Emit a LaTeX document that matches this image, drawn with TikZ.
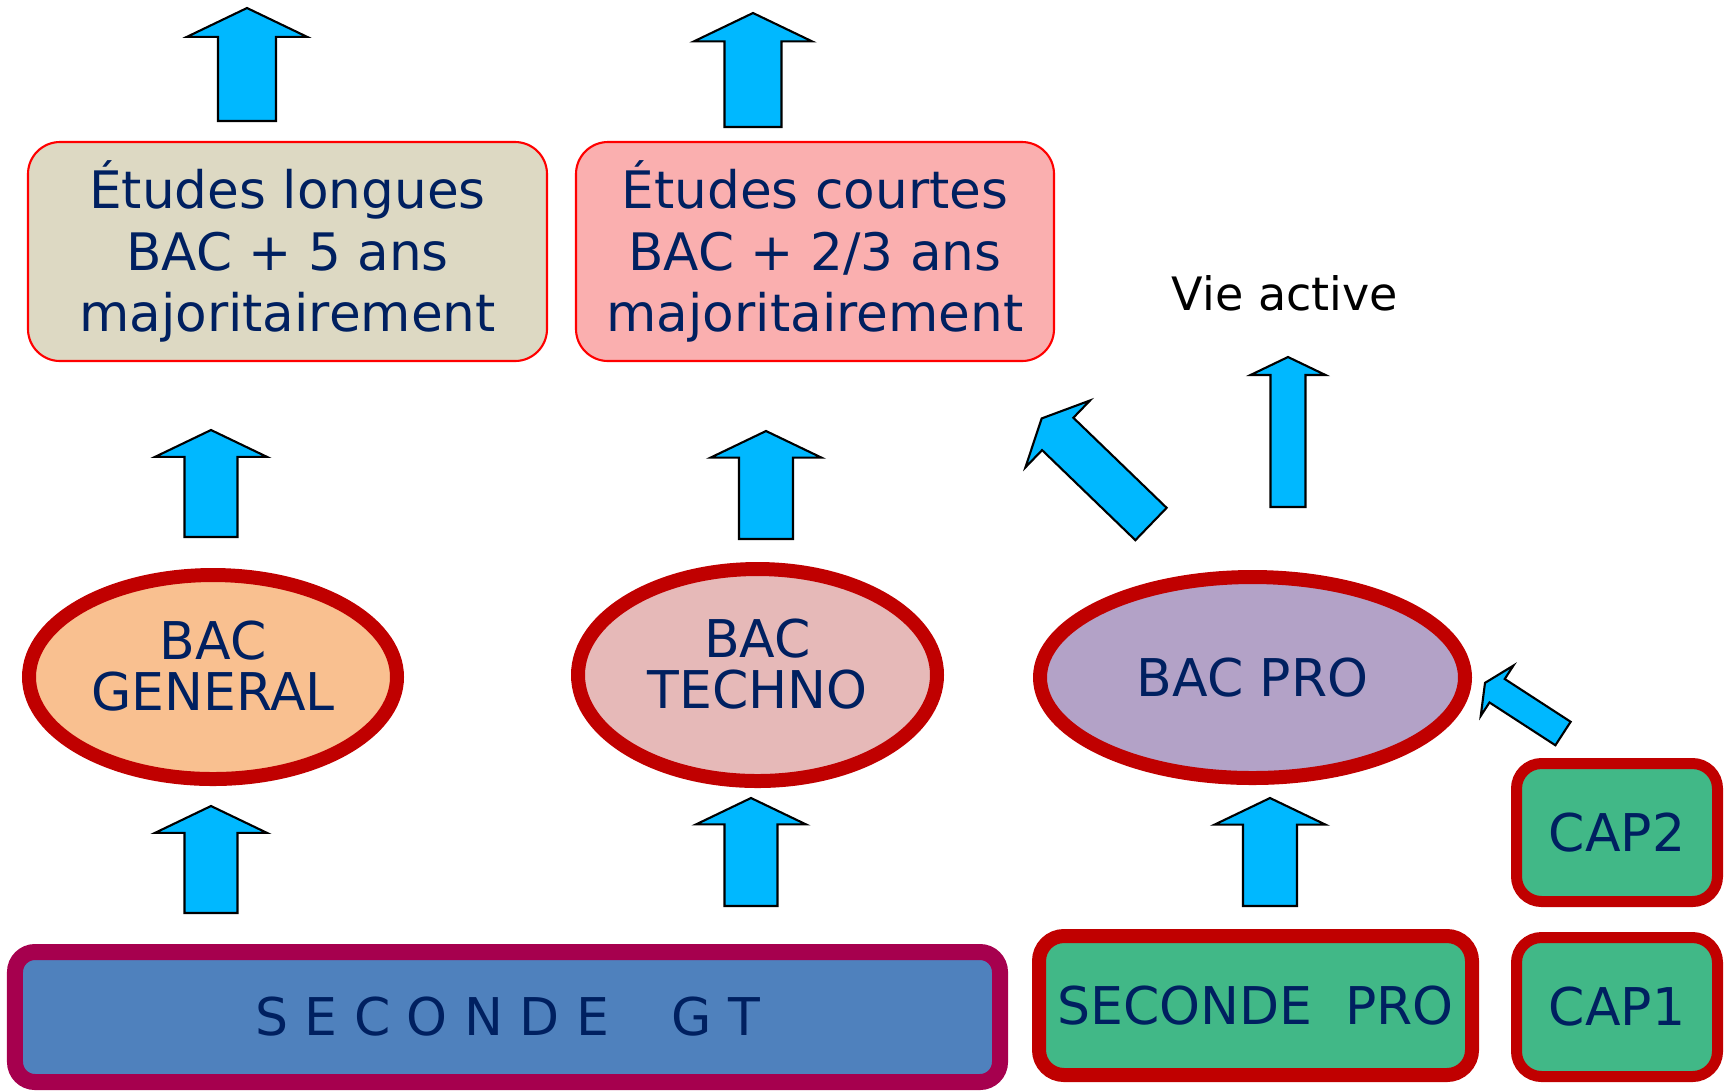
\documentclass[tikz,border=0pt]{standalone}
\usepackage{fontspec}
\setmainfont{DejaVu Sans}
\usepackage{tikz}
\usetikzlibrary{shapes.geometric}

\definecolor{navy}{HTML}{002060}
\definecolor{beige}{HTML}{DDD9C3}
\definecolor{rose}{HTML}{FAAFAF}
\definecolor{bacred}{HTML}{C00000}
\definecolor{orangeclair}{HTML}{F9C090}
\definecolor{roseclair}{HTML}{E6B9B8}
\definecolor{mauve}{HTML}{B3A2C7}
\definecolor{vert}{HTML}{41B887}
\definecolor{bleugt}{HTML}{4F81BD}
\definecolor{bordeaux}{HTML}{A6004E}
\definecolor{flechebleu}{HTML}{00B8FF}

% tail, angle, length, shaft width, head width
\newcommand{\fatarrow}[5]{%
  \filldraw[blockarrow, shift={#1}, rotate=#2] (-#4/2,0) -- (-#4/2,{#3-0.24*#5}) -- (-#5/2,{#3-0.24*#5}) -- (0,#3)
    -- (#5/2,{#3-0.24*#5}) -- (#4/2,{#3-0.24*#5}) -- (#4/2,0) -- cycle;}

\begin{document}
\begin{tikzpicture}[
    etude/.style={draw=red, line width=0.6pt, rounded corners=0.32cm, inner sep=0pt, text=navy, align=center, font={\fontsize{14.7pt}{17.4pt}\selectfont}},
    bac/.style={ellipse, draw=bacred, line width=0.14cm, inner sep=0pt, text=navy, align=center, font={\fontsize{14.8pt}{14.5pt}\selectfont}},
    cadre/.style={draw=bacred, fill=vert, rounded corners=0.25cm, inner sep=0pt, text=navy, font={\fontsize{14.8pt}{17pt}\selectfont}},
    blockarrow/.style={draw=black, fill=flechebleu, line width=0.6pt}
]
    \useasboundingbox (0,0) rectangle (17.29,-10.90);

    \node [etude, fill=beige, minimum width=5.19cm, minimum height=2.19cm] (longues) at (2.875,-2.515) {Études longues\\BAC + 5 ans\\majoritairement};
    \node [etude, fill=rose, minimum width=4.78cm, minimum height=2.19cm] (courtes) at (8.15,-2.515) {Études courtes\\BAC + 2/3 ans\\majoritairement};
    \node [font={\fontsize{13.1pt}{15pt}\selectfont}] (vie) at (12.85,-2.935) {Vie active};

    \node [bac, fill=orangeclair, minimum width=3.68cm, minimum height=2.04cm, text depth=0.22cm] (bacgen) at (2.13,-6.77) {BAC\\GENERAL};
    \node [bac, fill=roseclair, minimum width=3.59cm, minimum height=2.12cm, text depth=0.22cm] (bactech) at (7.575,-6.75) {BAC\\TECHNO};
    \node [bac, fill=mauve, minimum width=4.25cm, minimum height=2.01cm] (bacpro) at (12.525,-6.775) {BAC PRO};

    \node [cadre, draw=bordeaux, fill=bleugt, line width=0.16cm, rounded corners=0.2cm, minimum width=9.85cm, minimum height=1.30cm] (secgt) at (5.075,-10.17) {S E C O N D E\hspace{0.62cm}G T};
    \node [cadre, line width=0.14cm, minimum width=4.33cm, minimum height=1.39cm] (secpro) at (12.555,-10.055) {SECONDE\ \ PRO};
    \node [cadre, line width=0.11cm, minimum width=2.01cm, minimum height=1.38cm] (cap2) at (16.17,-8.325) {CAP2};
    \node [cadre, line width=0.11cm, minimum width=2.01cm, minimum height=1.39cm] (cap1) at (16.17,-10.07) {CAP1};

    \fatarrow{(2.47,-1.21)}{0}{1.13}{0.58}{1.20}
    \fatarrow{(7.53,-1.27)}{0}{1.14}{0.57}{1.18}
    \fatarrow{(2.11,-5.37)}{0}{1.07}{0.53}{1.12}
    \fatarrow{(7.66,-5.39)}{0}{1.08}{0.54}{1.11}
    \fatarrow{(2.11,-9.13)}{0}{1.07}{0.53}{1.12}
    \fatarrow{(7.51,-9.06)}{0}{1.08}{0.53}{1.10}
    \fatarrow{(12.70,-9.06)}{0}{1.08}{0.54}{1.11}
    \fatarrow{(12.88,-5.07)}{0}{1.50}{0.35}{0.75}
    \fatarrow{(11.51,-5.24)}{46}{1.52}{0.45}{0.93}
    \fatarrow{(15.63,-7.335)}{57}{0.93}{0.28}{0.60}
\end{tikzpicture}
\end{document}
